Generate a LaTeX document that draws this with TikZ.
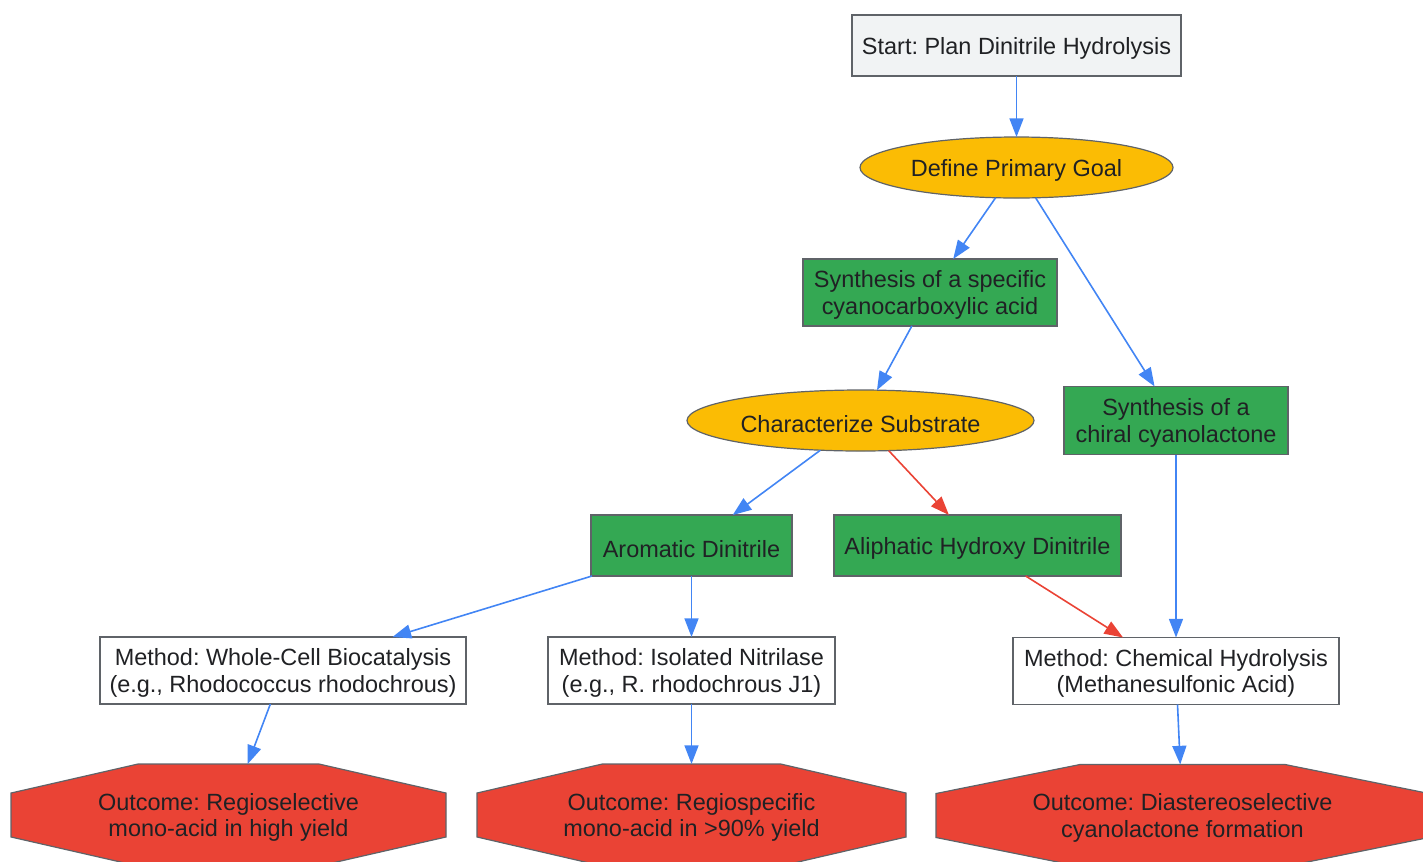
\documentclass[tikz,border=0pt]{standalone}
\usepackage{fontspec}
\setmainfont{Liberation Sans}
\frenchspacing
\usetikzlibrary{positioning,arrows.meta,shapes.geometric,calc,backgrounds}
\definecolor{gblue}{HTML}{4285F4}
\definecolor{gred}{HTML}{EA4335}
\definecolor{gyellow}{HTML}{FBBC04}
\definecolor{ggreen}{HTML}{34A853}
\definecolor{ggray}{HTML}{F1F3F4}
\definecolor{gline}{HTML}{5F6368}
\definecolor{gtext}{HTML}{202124}
\tikzset{
  base/.style    = {draw=gline, line width=0.9pt, inner sep=0pt, outer sep=0pt,
                    align=center, text=gtext,
                    font=\fontsize{17.6}{20}\selectfont,
                    execute at begin node={\rule{0pt}{17.5pt}}},
  twoline/.style = {text depth=-1.5pt},
  startbox/.style = {base, rectangle, fill=ggray, minimum height=45.75pt},
  decide/.style  = {base, ellipse, fill=gyellow, minimum height=45.75pt},
  pick/.style    = {base, rectangle, fill=ggreen},
  method/.style  = {base, twoline, rectangle, fill=white, minimum height=50.25pt},
  outc/.style    = {base, twoline, draw=none, rectangle, minimum height=76.5pt},
  arr/.style     = {-{Triangle[length=14pt,width=10.5pt]}, line width=1.2pt, draw=gblue},
  arrred/.style  = {arr, draw=gred}
}
% octagon drawn behind an outcome node
\newcommand{\octshape}[1]{%
  \filldraw[fill=gred, draw=gline, line width=0.9pt]
    ($(#1.north west)!0.292!(#1.north east)$) --
    ($(#1.north west)!0.708!(#1.north east)$) --
    ($(#1.east)!0.431!(#1.north east)$) --
    ($(#1.east)!0.431!(#1.south east)$) --
    ($(#1.south west)!0.708!(#1.south east)$) --
    ($(#1.south west)!0.292!(#1.south east)$) --
    ($(#1.west)!0.431!(#1.south west)$) --
    ($(#1.west)!0.431!(#1.north west)$) -- cycle;}
\begin{document}
\begin{tikzpicture}
  \useasboundingbox (0,0) rectangle (1067.25pt,-645.75pt);
  \node[startbox,minimum width=246.75pt] (start) at (762.375pt,-34.125pt) {Start: Plan Dinitrile Hydrolysis};
  \node[decide,below=45.75pt of start,minimum width=234.75pt] (goal) {Define Primary Goal};
  \node[pick,twoline,below=45.75pt of goal,xshift=-64.875pt,minimum width=190.5pt,minimum height=50.25pt] (acid) {Synthesis of a specific\\cyanocarboxylic acid};
  \node[decide,below=48pt of acid,xshift=-52.125pt,minimum width=260.25pt] (subst) {Characterize Substrate};
  \node[pick,twoline,right=22.5pt of subst,minimum width=168pt,minimum height=51pt] (lact) {Synthesis of a\\chiral cyanolactone};
  \node[pick,below=48pt of subst,xshift=-126.75pt,minimum width=150.75pt,minimum height=45.75pt] (arom) {Aromatic Dinitrile};
  \node[pick,right=31.5pt of arom,minimum width=215.25pt,minimum height=45.75pt] (aliph) {Aliphatic Hydroxy Dinitrile};
  \node[method,below=45.75pt of arom,xshift=-306.375pt,minimum width=274.5pt] (cell) {Method: Whole-Cell Biocatalysis\\(e.g., Rhodococcus rhodochrous)};
  \node[method,below=45.75pt of arom,minimum width=215.25pt] (nitr) {Method: Isolated Nitrilase\\(e.g., R. rhodochrous J1)};
  \node[method,below=137.25pt of lact,minimum width=244.5pt] (chem) {Method: Chemical Hydrolysis\\(Methanesulfonic Acid)};
  \node[outc,below=45pt of cell,xshift=-40.875pt,minimum width=326.25pt] (out1) {Outcome: Regioselective\\mono-acid in high yield};
  \node[outc,below=45pt of nitr,minimum width=321.75pt] (out2) {Outcome: Regiospecific\\mono-acid in >90\% yield};
  \node[outc,below=45pt of chem,xshift=4.875pt,minimum width=369.75pt] (out3) {Outcome: Diastereoselective\\cyanolactone formation};
  \begin{pgfonlayer}{background}
    \octshape{out1}
    \octshape{out2}
    \octshape{out3}
  \end{pgfonlayer}
  \draw[arr] (start) -- (goal);
  \draw[arr] (goal) -- (acid);
  \draw[arr] (goal) -- (lact);
  \draw[arr] (acid) -- (subst);
  \draw[arr] (subst) -- (arom);
  \draw[arrred] (subst) -- (aliph);
  \draw[arr] (lact) -- (chem);
  \draw[arrred] (aliph) -- (chem);
  \draw[arr] (arom) -- (cell);
  \draw[arr] (arom) -- (nitr);
  \draw[arr] (cell) -- (out1);
  \draw[arr] (nitr) -- (out2);
  \draw[arr] (chem) -- (out3);
\end{tikzpicture}
\end{document}
